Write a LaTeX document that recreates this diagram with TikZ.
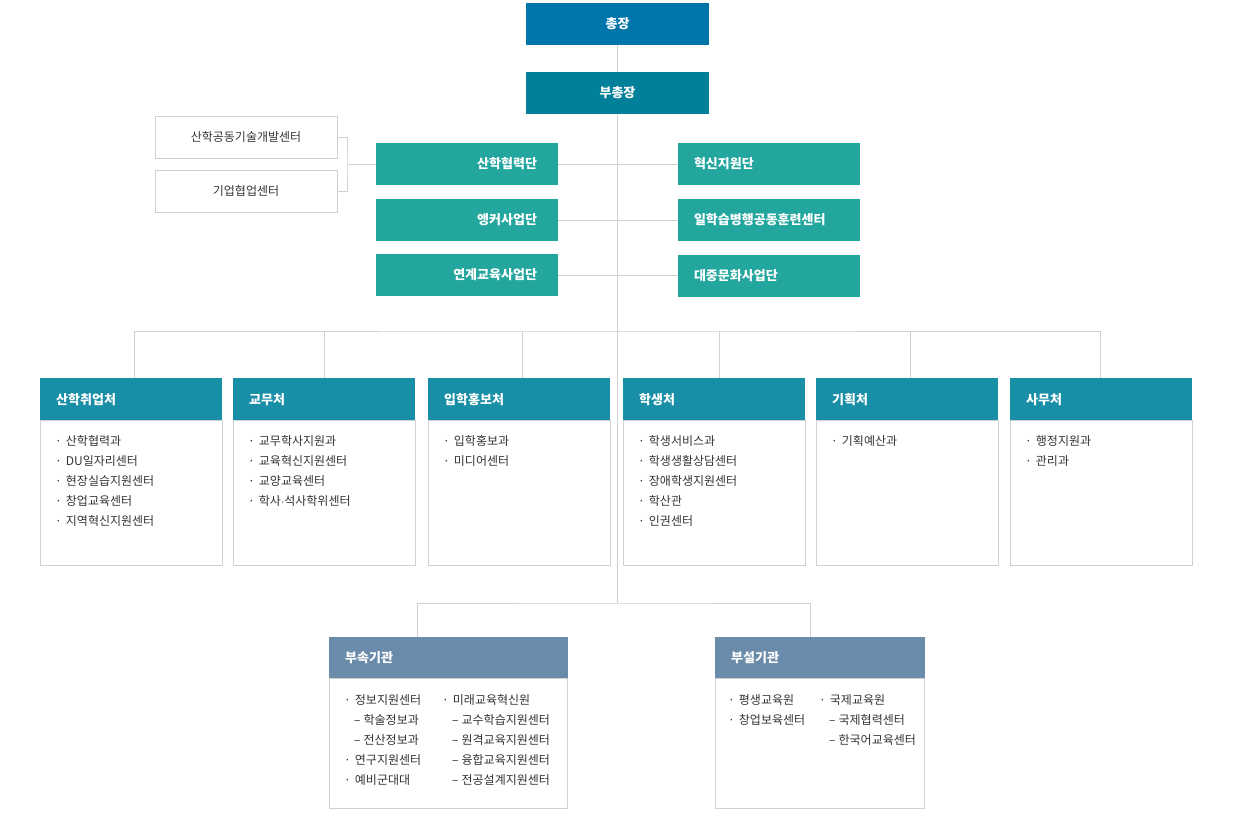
\documentclass[tikz,border=0pt]{standalone}
\usepackage{fontspec}
\setmainfont{Noto Sans CJK KR}
\usetikzlibrary{calc}
\definecolor{topblue}{RGB}{0,117,170}
\definecolor{vpblue}{RGB}{2,127,153}
\definecolor{unitteal}{RGB}{35,166,158}
\definecolor{deptblue}{RGB}{25,143,167}
\definecolor{slate}{RGB}{107,139,170}
\definecolor{linegray}{RGB}{208,208,208}
\definecolor{textgray}{RGB}{51,51,51}
\tikzset{
  link/.style={draw=linegray, line width=1pt},
  headfont/.style={text=white, font=\bfseries\fontsize{13}{15}\selectfont},
  topbox/.style={headfont, minimum width=183, minimum height=42, inner sep=0},
  unitbox/.style={headfont, fill=unitteal, minimum width=182, minimum height=42,
    inner sep=0},
  centerbox/.style={draw=linegray, line width=1pt, text=textgray,
    font=\fontsize{12}{14}\selectfont, minimum width=182, minimum height=42,
    inner sep=0},
  depthead/.style={headfont, fill=deptblue, minimum width=182,
    minimum height=42, inner sep=0, text width=150, align=left},
  grouphead/.style={headfont, fill=slate, minimum height=41, inner sep=0,
    align=left},
  bodyline/.style={draw=linegray, line width=1pt},
  entry/.style={anchor=west, inner sep=0, text=textgray,
    font=\fontsize{12}{14}\selectfont}
}
\newcommand{\drawdept}[4]{
  \node[depthead, anchor=north west] (#1) at (#2, 378) {#3};
  \draw[bodyline] (#1.south west) rectangle ++(182, 145);
  \foreach \txt [count=\i] in {#4}
    \node[entry] (#1-\i) at (#2 + 15, 421 + 20 * \i) {·\hspace{4pt}\txt};
}
\newcommand{\drawentries}[3]{
  \foreach \dx/\txt [count=\i] in {#3}
    \node[entry] (#1-\i) at (#2 + \dx, 680 + 20 * \i) {\txt};
}

\begin{document}
\begin{tikzpicture}[x=1pt, y=-1pt]
  \useasboundingbox (0,0) rectangle (1250,835);
  % president and vice president
  \node[topbox, fill=topblue] (chongjang) at (617.5, 24) {총장};
  \node[topbox, fill=vpblue] (buchongjang) at (617.5, 93) {부총장};
  % units beside the trunk
  \node[unitbox, text width=140, align=right] (sanhak) at (467, 164) {산학협력단};
  \node[unitbox, text width=140, align=right] (anchor) at (467, 220) {앵커사업단};
  \node[unitbox, text width=140, align=right] (yeongye) at (467, 275) {연계교육사업단};
  \node[unitbox, text width=150, align=left] (hyeoksin) at (769, 164) {혁신지원단};
  \node[unitbox, text width=150, align=left] (ilhakseup) at (769, 220) {일학습병행공동훈련센터};
  \node[unitbox, text width=150, align=left] (daejung) at (769, 276) {대중문화사업단};
  \node[centerbox] (gongdong) at (246, 137) {산학공동기술개발센터};
  \node[centerbox] (giup) at (246, 191) {기업협업센터};
  % departments
  \drawdept{sanhakchwi}{40}{산학취업처}{산학협력과, DU일자리센터, 현장실습지원센터,
    창업교육센터, 지역혁신지원센터}
  \drawdept{gyomu}{233}{교무처}{교무학사지원과, 교육혁신지원센터, 교양교육센터,
    학사$\cdot$석사학위센터}
  \drawdept{iphak}{428}{입학홍보처}{입학홍보과, 미디어센터}
  \drawdept{haksaeng}{623}{학생처}{학생서비스과, 학생생활상담센터, 장애학생지원센터,
    학산관, 인권센터}
  \drawdept{gihoek}{816}{기획처}{기획예산과}
  \drawdept{samu}{1010}{사무처}{행정지원과, 관리과}
  % affiliated institutions
  \node[grouphead, anchor=north west, minimum width=239, text width=207]
    (busok) at (329, 637) {부속기관};
  \draw[bodyline] (busok.south west) rectangle ++(238, 130);
  \drawentries{busokA}{344}{0/·\hspace{4pt}정보지원센터, 10/–\hspace{3pt}학술정보과,
    10/–\hspace{3pt}전산정보과, 0/·\hspace{4pt}연구지원센터, 0/·\hspace{4pt}예비군대대}
  \drawentries{busokB}{442}{0/·\hspace{4pt}미래교육혁신원, 10/–\hspace{3pt}교수학습지원센터,
    10/–\hspace{3pt}원격교육지원센터, 10/–\hspace{3pt}융합교육지원센터,
    10/–\hspace{3pt}전공설계지원센터}
  \node[grouphead, anchor=north west, minimum width=210, text width=178]
    (buseol) at (715, 637) {부설기관};
  \draw[bodyline] (buseol.south west) rectangle ++(209, 130);
  \drawentries{buseolA}{728}{0/·\hspace{4pt}평생교육원, 0/·\hspace{4pt}창업보육센터}
  \drawentries{buseolB}{819}{0/·\hspace{4pt}국제교육원, 10/–\hspace{3pt}국제협력센터,
    10/–\hspace{3pt}한국어교육센터}
  % connectors
  \coordinate (bus) at (617.5, 331);
  \coordinate (lowbus) at (617.5, 603);
  \coordinate (brk) at (347, 164);
  \draw[link] (chongjang) -- (buchongjang);
  \draw[link] (buchongjang.south) -- (lowbus);
  \draw[link] (sanhak) -- (hyeoksin);
  \draw[link] (anchor) -- (ilhakseup);
  \draw[link] (yeongye.east) -- (yeongye.east -| daejung.west);
  \draw[link] (gongdong.east) -| (brk) |- (giup.east);
  \draw[link] (brk) -- (sanhak.west);
  \draw[link] ([xshift=3]sanhakchwi.north) |- (bus) -| ([xshift=-1]samu.north);
  \foreach \d/\s in {gyomu/0, iphak/3, haksaeng/5, gihoek/3}
    \draw[link] ([xshift=\s]\d.north) -- ([xshift=\s]\d.north |- bus);
  \draw[link] ($(busok.north west)+(88,0)$) |- (lowbus)
    -| ($(buseol.north west)+(95,0)$);
\end{tikzpicture}
\end{document}
